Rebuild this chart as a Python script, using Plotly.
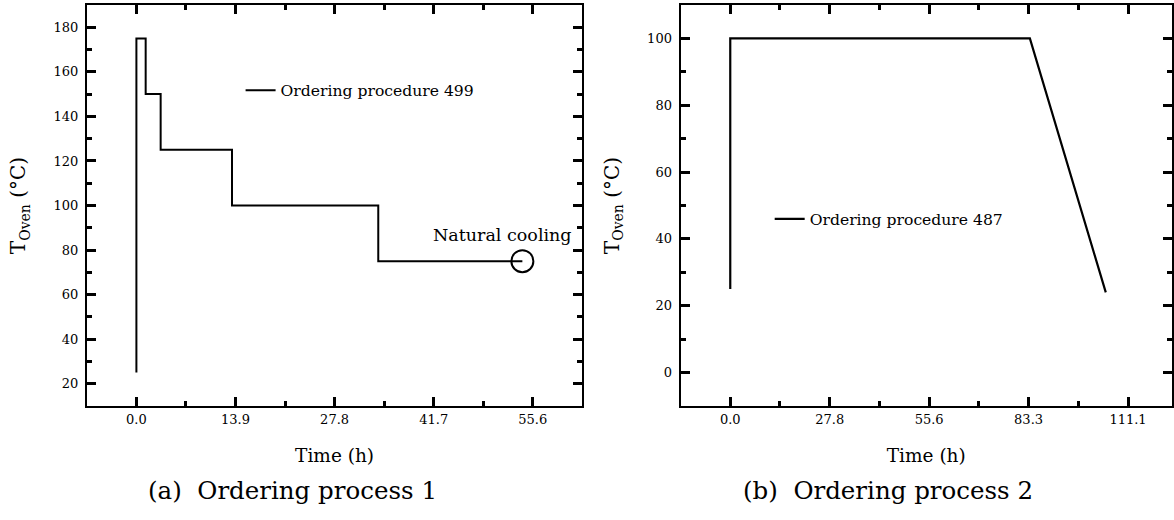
import plotly.graph_objects as go

# ---- data (hours, °C) ----
time_a = [0.0, 0.0, 1.3, 3.4, 13.4, 33.9, 54.1]
temp_a = [25, 175, 150, 125, 100, 75, 75]
cool_time = [54.1]
cool_temp = [75]

time_b = [0.0, 0.0, 83.7, 104.9]
temp_b = [25, 100, 100, 24]

name_a = "Ordering procedure 499"
name_b = "Ordering procedure 487"
caption_a = "(a)  Ordering process 1"
caption_b = "(b)  Ordering process 2"
cool_label = "Natural cooling"

W, H = 1174, 520
FONT = "DejaVu Serif"

fig = go.Figure()
fig.add_trace(go.Scatter(x=time_a, y=temp_a, mode="lines", line=dict(color="black", width=2, shape="hv"),
                         name=name_a, xaxis="x", yaxis="y", legend="legend"))
fig.add_trace(go.Scatter(x=cool_time, y=cool_temp, mode="markers",
                         marker=dict(symbol="circle-open", size=22, color="black", line=dict(width=2)),
                         showlegend=False, xaxis="x", yaxis="y"))
fig.add_trace(go.Scatter(x=time_b, y=temp_b, mode="lines", line=dict(color="black", width=2.2),
                         name=name_b, xaxis="x2", yaxis="y2", legend="legend2"))

hstep = 50000 / 3600.0

def xax(domain, rng, dtick):
    return dict(domain=domain, range=rng, dtick=dtick, tick0=0, tickformat=".1f",
                ticks="inside", ticklen=9, tickwidth=2.5, tickcolor="black",
                minor=dict(dtick=dtick / 2, ticks="inside", ticklen=5, tickwidth=2.5, tickcolor="black"),
                showline=True, linewidth=2, linecolor="black", mirror="ticks",
                showgrid=False, zeroline=False,
                tickfont=dict(family=FONT, size=13, color="black"),
                title=dict(text="Time (h)", font=dict(family=FONT, size=18.5, color="black"), standoff=23))

def yax(domain, rng):
    return dict(domain=domain, range=rng, dtick=20, tick0=0,
                ticks="inside", ticklen=9, tickwidth=2.5, tickcolor="black",
                minor=dict(dtick=10, ticks="inside", ticklen=5, tickwidth=2.5, tickcolor="black"),
                showline=True, linewidth=2, linecolor="black", mirror="ticks",
                showgrid=False, zeroline=False, ticklabelstandoff=4,
                tickfont=dict(family=FONT, size=13, color="black"),
                title=dict(text="T<sub>Oven</sub> (°C)", font=dict(family=FONT, size=20, color="black"), standoff=22))

ydom = [(H - 406) / H, (H - 5) / H]
xa = xax([87 / W, 583.3 / W], [-25000 / 3600, 225000 / 3600], hstep)
xa["anchor"] = "y"
xb = xax([681.7 / W, 1.0], [-50000 / 3600, 123.4], 2 * hstep)
xb["anchor"] = "y2"
ya = yax(ydom, [10, 190]); ya["anchor"] = "x"
yb = yax(ydom, [-10, 110]); yb["anchor"] = "x2"

fig.update_layout(
    width=W, height=H, margin=dict(l=0, r=0, t=0, b=0),
    paper_bgcolor="white", plot_bgcolor="white",
    font=dict(family=FONT, color="black"),
    xaxis=xa, yaxis=ya, xaxis2=xb, yaxis2=yb,
    legend=dict(x=241 / W, y=(H - 90.7) / H, xanchor="left", yanchor="middle",
                bgcolor="rgba(0,0,0,0)", font=dict(family=FONT, size=15.6, color="black")),
    legend2=dict(x=771 / W, y=(H - 219.3) / H, xanchor="left", yanchor="middle",
                 bgcolor="rgba(0,0,0,0)", font=dict(family=FONT, size=15.6, color="black")),
    annotations=[
        dict(x=cool_time[0], y=cool_temp[0], xref="x", yref="y", text=cool_label, showarrow=False,
             xanchor="center", yanchor="bottom", xshift=-20, yshift=14,
             font=dict(family=FONT, size=17.5, color="black")),
        dict(x=293 / W, y=(H - 490) / H, xref="paper", yref="paper", text=caption_a, showarrow=False,
             xanchor="center", yanchor="middle", font=dict(family=FONT, size=24.5, color="black")),
        dict(x=890 / W, y=(H - 490) / H, xref="paper", yref="paper", text=caption_b, showarrow=False,
             xanchor="center", yanchor="middle", font=dict(family=FONT, size=24.5, color="black")),
    ],
)

fig.write_html("out.html")
